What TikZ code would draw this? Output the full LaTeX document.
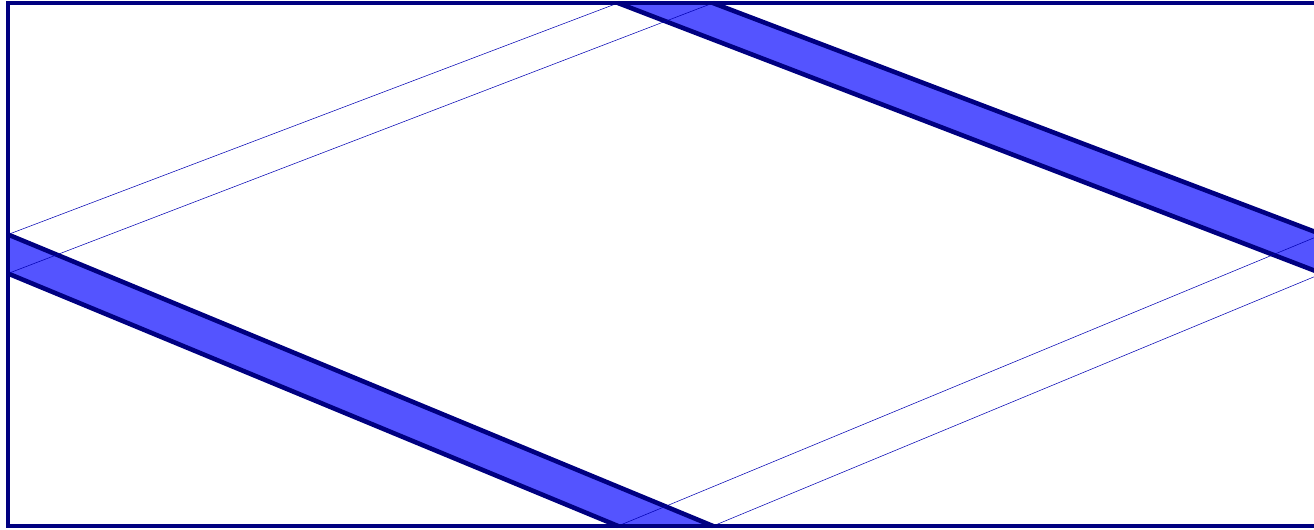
\documentclass[tikz,border=0pt]{standalone}
\usepackage{tikz}
\usetikzlibrary{positioning}

\begin{document}
\begin{tikzpicture}[
        x=0.01cm, y=-0.01cm,
        frame/.style={line width=1.1pt, draw=blue!50!black},
        band/.style={fill=blue!67},
        bandedge/.style={line width=1.3pt, draw=blue!50!black},
        guide/.style={line width=0.15pt, draw=blue!70!black}
    ]
        \useasboundingbox (0,0) rectangle (1314,529);
        \clip (0,0) rectangle (1314,529);

        % Box corners
        \coordinate (nw) at (8,3);
        \coordinate (se) at (1322,526);

        % Left side
        \coordinate (l1) at (8,234.5);
        \coordinate (l2) at (8,273.5);
        % Top side
        \coordinate (t1) at (618,3);
        \coordinate (t2) at (713,3);
        % Right side
        \coordinate (r1) at (1322,234.5);
        \coordinate (r2) at (1322,273.5);
        % Bottom side
        \coordinate (b1) at (618,526);
        \coordinate (b2) at (713,526);

        % Lower strip
        \fill[band] (l1)--(b2)--(b1)--(l2)--cycle;
        \draw[bandedge] (l1)--(b2);
        \draw[bandedge] (l2)--(b1);

        % Upper strip
        \fill[band] (t1)--(t2)--(r1)--(r2)--cycle;
        \draw[bandedge] (t2)--(r1);
        \draw[bandedge] (t1)--(r2);

        % Thin guides
        \draw[guide] (l1)--(t1);
        \draw[guide] (l2)--(t2);
        \draw[guide] (b1)--(r1);
        \draw[guide] (b2)--(r2);
        \draw[guide] (b1)--(b2);

        % Box
        \draw[frame] (nw) rectangle (se);
    \end{tikzpicture}
\end{document}
